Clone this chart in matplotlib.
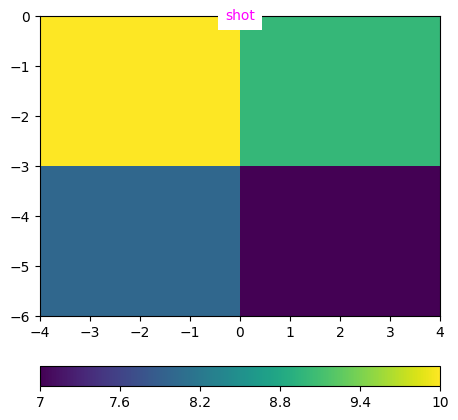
import matplotlib
matplotlib.use('Agg')
import matplotlib.pyplot as plt
import numpy as np

# 2x2 grid values (top row first)
values = [[10.0, 9.0],
          [8.0, 7.0]]
extent = [-4, 4, -6, 0]
cbar_ticks = [7, 7.6, 8.2, 8.8, 9.4, 10]
label = 'shot'

fig = plt.figure(figsize=(4.58, 4.2), dpi=100)
ax = fig.add_axes([40/458, 1 - 316/420, 400/458, 300/420])
cax = fig.add_axes([40/458, 1 - 386/420, 400/458, 20/420])

im = ax.imshow(np.array(values), cmap='viridis', extent=extent, vmin=7, vmax=10, aspect='auto')
ax.text(0, 0, label, color='magenta', ha='center', va='center',
        bbox=dict(facecolor='white', edgecolor='none', pad=5), clip_on=False)

cb = fig.colorbar(im, cax=cax, orientation='horizontal')
cb.set_ticks(cbar_ticks)
cb.set_ticklabels(['7', '7.6', '8.2', '8.8', '9.4', '10'])

fig.savefig('out.png', dpi=100)
